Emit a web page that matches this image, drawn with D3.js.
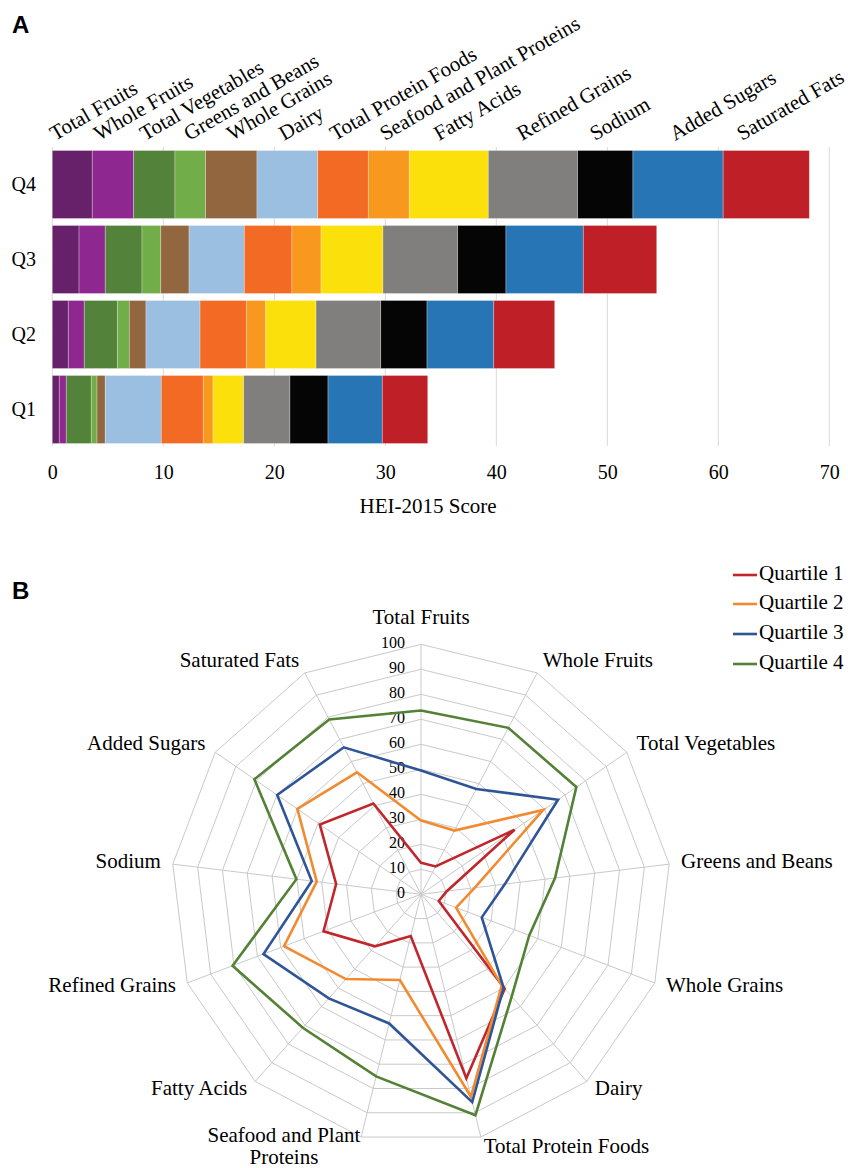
<!DOCTYPE html>
<html>
<head>
<meta charset="utf-8">
<script src="https://cdn.jsdelivr.net/npm/d3@7"></script>
<style>
  body { margin: 0; background: #fff; }
  svg { display: block; }
  text { font-family: "Liberation Serif", "Times New Roman", "DejaVu Serif", serif; fill: #000; }
  .panel-label { font-family: "Liberation Sans", Arial, sans-serif; font-weight: bold; font-size: 24px; }
</style>
</head>
<body>
<svg id="chart" width="848" height="1168"></svg>
<script>
// HEI-2015 components, in stacking order (also radar order, clockwise from top)
const components = [
  'Total Fruits', 'Whole Fruits', 'Total Vegetables', 'Greens and Beans', 'Whole Grains',
  'Dairy', 'Total Protein Foods', 'Seafood and Plant Proteins', 'Fatty Acids',
  'Refined Grains', 'Sodium', 'Added Sugars', 'Saturated Fats'
];
const componentColors = [
  '#67206a', '#8e278f', '#53823b', '#71ad48', '#92663f', '#9bbfe0', '#f26a24',
  '#f8981e', '#fce00b', '#817f7d', '#050505', '#2775b5', '#bf1f26'
];

// Panel A: component scores per quartile
const quartiles = ['Q4', 'Q3', 'Q2', 'Q1'];
const q1Scores = [0.63, 0.63, 2.25, 0.52, 0.74, 5.05, 3.78, 0.88, 2.76, 4.17, 3.43, 4.89, 4.09];
const q2Scores = [1.44, 1.44, 2.98, 1.08, 1.50, 4.87, 4.17, 1.75, 4.53, 5.83, 4.17, 6.01, 5.49];
const q3Scores = [2.41, 2.36, 3.31, 1.69, 2.55, 4.98, 4.29, 2.62, 5.58, 6.73, 4.35, 6.97, 6.61];
const q4Scores = [3.60, 3.73, 3.72, 2.76, 4.63, 5.47, 4.56, 3.69, 7.12, 8.05, 4.98, 8.13, 7.76];
const xTicks = [0, 10, 20, 30, 40, 50, 60, 70];

// Panel B: percent of maximum score per quartile
const seriesNames = ['Quartile 1', 'Quartile 2', 'Quartile 3', 'Quartile 4'];
const seriesColors = ['#c0272d', '#f28a30', '#2f5597', '#538135'];
const q1Pct = [12.6, 12.6, 45.5, 10.4, 7.6, 50.5, 75.8, 17.2, 27.8, 41.7, 34.2, 49.2, 41.0];
const q2Pct = [29.5, 28.8, 59.4, 21.6, 15.0, 48.7, 83.4, 35.3, 45.3, 58.6, 42.0, 60.1, 55.1];
const q3Pct = [49.5, 47.6, 66.6, 33.8, 26.0, 49.8, 85.6, 53.2, 55.6, 67.4, 44.0, 69.9, 66.4];
const q4Pct = [73.5, 75.2, 75.5, 54.0, 46.3, 54.7, 91.0, 75.0, 71.3, 80.6, 50.2, 81.0, 79.0];
const radarTicks = [0, 10, 20, 30, 40, 50, 60, 70, 80, 90, 100];

// layout: where each slanted label of panel A starts (pixels), hand placed in the original
const slantLabelX = [53, 97, 143, 187, 230, 282, 333, 383, 437, 520, 593, 673, 740];

const svg = d3.select('#chart');

// ---------- Panel A ----------
svg.append('text').attr('class', 'panel-label').attr('x', 12).attr('y', 33).text('A');

const scoresByQuartile = { Q1: q1Scores, Q2: q2Scores, Q3: q3Scores, Q4: q4Scores };
const barRows = quartiles.map(q => {
  const row = { quartile: q };
  components.forEach((c, i) => { row[c] = scoresByQuartile[q][i]; });
  return row;
});

const x = d3.scaleLinear().domain([0, 70]).range([52.3, 829.3]);
const y = d3.scaleBand().domain(quartiles).range([147, 447])
  .paddingInner(7 / 75).paddingOuter(3.5 / 75);

// vertical gridlines
svg.append('g')
  .selectAll('line')
  .data(xTicks)
  .join('line')
  .attr('x1', d => x(d)).attr('x2', d => x(d))
  .attr('y1', 147).attr('y2', 446)
  .attr('stroke', '#d9d9d9').attr('stroke-width', 1);

const stacked = d3.stack().keys(components)(barRows);

svg.append('g')
  .selectAll('g')
  .data(stacked)
  .join('g')
  .attr('fill', (d, i) => componentColors[i])
  .selectAll('rect')
  .data(d => d)
  .join('rect')
  .attr('x', d => x(d[0]))
  .attr('y', d => y(d.data.quartile))
  .attr('width', d => x(d[1]) - x(d[0]))
  .attr('height', y.bandwidth())
  .attr('stroke', 'rgba(255,255,255,0.35)')
  .attr('stroke-width', 0.8);

// x axis tick labels
const xAxis = d3.axisBottom(x).tickValues(xTicks).tickSize(0).tickPadding(0);
const xAxisG = svg.append('g')
  .attr('transform', 'translate(0,472)')
  .call(xAxis);
xAxisG.select('.domain').remove();
xAxisG.selectAll('text')
  .attr('dy', '0.35em')
  .attr('font-size', 20)
  .attr('fill', '#000');

svg.append('text')
  .attr('x', 428).attr('y', 508)
  .attr('text-anchor', 'middle')
  .attr('dominant-baseline', 'middle')
  .attr('font-size', 21)
  .text('HEI-2015 Score');

// quartile labels
const yAxis = d3.axisLeft(y).tickSize(0).tickPadding(0);
const yAxisG = svg.append('g')
  .attr('transform', 'translate(36,0)')
  .call(yAxis);
yAxisG.select('.domain').remove();
yAxisG.selectAll('text')
  .attr('font-size', 20)
  .attr('fill', '#000');

// slanted component labels above the Q4 bar
svg.append('g')
  .selectAll('text')
  .data(components)
  .join('text')
  .attr('transform', (d, i) => `translate(${slantLabelX[i] + 2},141) rotate(-30)`)
  .attr('font-size', 21)
  .text(d => d);

// ---------- Panel B ----------
svg.append('text').attr('class', 'panel-label').attr('x', 12).attr('y', 599).text('B');

const cx = 421, cy = 894.3, R = 250;
const r = d3.scaleLinear().domain([0, 100]).range([0, R]);
const step = 2 * Math.PI / components.length;
const angles = components.map((c, i) => i * step);

const radar = svg.append('g').attr('transform', `translate(${cx},${cy})`);

// rings
radar.append('g')
  .selectAll('path')
  .data(radarTicks.slice(1))
  .join('path')
  .attr('d', t => d3.lineRadial().angle(a => a).radius(() => r(t)).curve(d3.curveLinearClosed)(angles))
  .attr('fill', 'none')
  .attr('stroke', '#c9c9c9')
  .attr('stroke-width', 1);

// spokes
radar.append('g')
  .selectAll('line')
  .data(angles)
  .join('line')
  .attr('x1', 0).attr('y1', 0)
  .attr('x2', a => r(100) * Math.sin(a))
  .attr('y2', a => -r(100) * Math.cos(a))
  .attr('stroke', '#c9c9c9')
  .attr('stroke-width', 1);

// ring tick labels on the top spoke
radar.append('g')
  .selectAll('text')
  .data(radarTicks)
  .join('text')
  .attr('x', -16)
  .attr('y', t => -r(t))
  .attr('text-anchor', 'end')
  .attr('dominant-baseline', 'middle')
  .attr('font-size', 16)
  .text(t => t);

// series lines
const pctSeries = [q1Pct, q2Pct, q3Pct, q4Pct];
const radarLine = d3.lineRadial()
  .angle((d, i) => angles[i])
  .radius(d => r(d))
  .curve(d3.curveLinearClosed);

radar.append('g')
  .selectAll('path')
  .data(pctSeries)
  .join('path')
  .attr('d', d => radarLine(d))
  .attr('fill', 'none')
  .attr('stroke', (d, i) => seriesColors[i])
  .attr('stroke-width', 2.6)
  .attr('stroke-linejoin', 'miter');

// axis labels
const labelG = radar.append('g');
components.forEach((name, i) => {
  const a = angles[i];
  const s = Math.sin(a), c = Math.cos(a);
  const lx = (R + 12) * s;
  let ly = -(R + 12) * c;
  if (i === 0) ly = -R - 25;
  const anchor = Math.abs(s) < 0.05 ? 'middle' : (s > 0 ? 'start' : 'end');
  if (name === 'Seafood and Plant Proteins') {
    const lines = ['Seafood and Plant', 'Proteins'];
    const t = labelG.append('text')
      .attr('text-anchor', 'middle')
      .attr('font-size', 21);
    const spans = lines.map((ln, k) => t.append('tspan')
      .attr('dominant-baseline', 'middle')
      .attr('y', ly + (k - 0.5) * 22)
      .text(ln));
    const maxW = d3.max(spans, sp => sp.node().getComputedTextLength());
    spans.forEach(sp => sp.attr('x', lx + 2 - maxW / 2));
  } else {
    labelG.append('text')
      .attr('x', lx).attr('y', ly)
      .attr('text-anchor', anchor)
      .attr('dominant-baseline', 'middle')
      .attr('font-size', 21)
      .text(name);
  }
});

// legend
const legend = svg.append('g');
const legendY = [575, 604, 634, 664];
seriesNames.forEach((name, i) => {
  legend.append('line')
    .attr('x1', 733).attr('x2', 757)
    .attr('y1', legendY[i]).attr('y2', legendY[i])
    .attr('stroke', seriesColors[i]).attr('stroke-width', 2.6);
  legend.append('text')
    .attr('x', 759).attr('y', legendY[i])
    .attr('dominant-baseline', 'middle')
    .attr('font-size', 21)
    .text(name);
});
</script>
</body>
</html>
